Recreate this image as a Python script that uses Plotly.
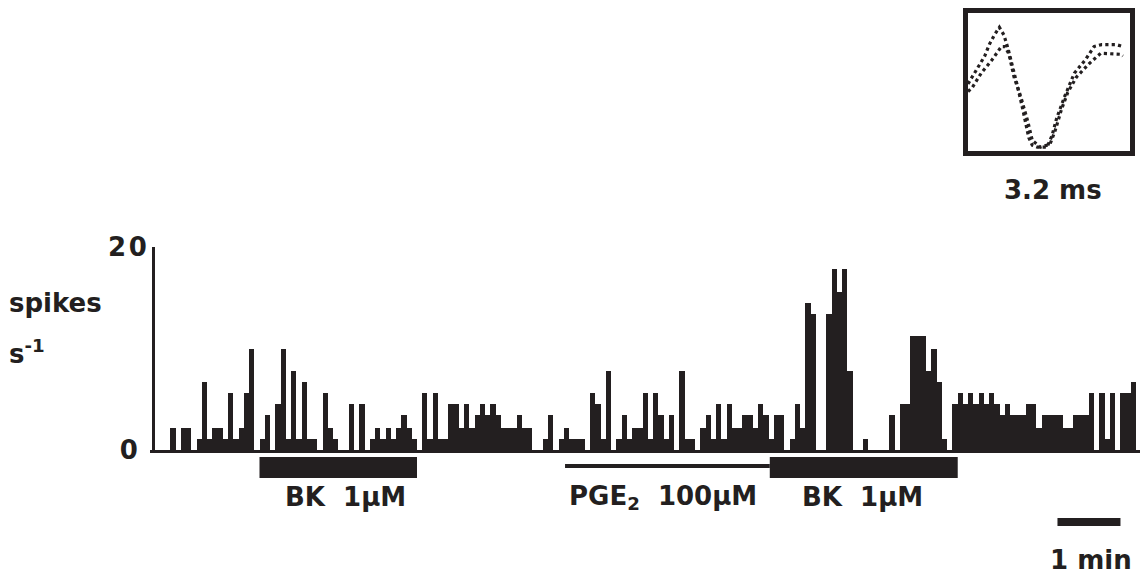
import numpy as np
import plotly.graph_objects as go

# ---------------- data ----------------
# spike-rate histogram (spikes s-1), one value per 5-s bin
rates = [
    0, 0, 0, 2.2, 0, 2.2, 2.2, 0, 1.1, 6.7,
    1.1, 2.2, 2.2, 1.1, 5.6, 1.1, 2.2, 5.6, 10.0, 0,
    1.1, 3.4, 0, 4.5, 10.0, 1.1, 7.8, 1.1, 6.7, 1.1,
    1.1, 0, 5.6, 2.2, 1.1, 0, 0, 4.5, 0, 4.5,
    0, 1.1, 2.2, 1.1, 2.2, 1.1, 2.2, 3.4, 2.2, 1.1,
    0, 5.6, 1.1, 5.6, 1.1, 1.1, 4.5, 4.5, 2.2, 4.5,
    2.2, 3.4, 4.5, 3.4, 4.5, 3.4, 2.2, 2.2, 2.2, 3.4,
    2.2, 2.2, 0, 0, 1.1, 3.4, 0, 1.1, 2.2, 1.1,
    1.1, 1.1, 0, 5.6, 4.5, 1.1, 7.8, 0, 1.1, 3.4,
    1.1, 2.2, 2.2, 5.6, 1.1, 5.6, 3.4, 1.1, 3.4, 0,
    7.8, 1.1, 1.1, 0, 2.2, 3.4, 1.1, 4.5, 1.1, 4.5,
    2.2, 2.2, 3.4, 3.4, 2.2, 4.5, 3.4, 1.1, 3.4, 3.4,
    0, 1.1, 4.5, 2.2, 14.5, 13.4, 0, 0, 13.4, 17.8,
    15.6, 17.8, 7.8, 0, 0, 1.1, 0, 0, 0, 0,
    3.4, 0, 4.5, 4.5, 11.2, 11.2, 11.2, 7.8, 10.0, 6.7,
    1.1, 0, 4.5, 5.6, 4.5, 5.6, 4.5, 5.6, 4.5, 5.6,
    4.5, 3.4, 4.5, 3.4, 3.4, 3.4, 4.5, 4.5, 2.2, 3.4,
    3.4, 3.4, 3.4, 2.2, 2.2, 3.4, 3.4, 3.4, 5.6, 0,
    5.6, 1.1, 5.6, 0, 5.6, 5.6, 6.7,
]
bin_width_s = 5
y_ticks = [0, 20]
y_tick_labels = ["0\u00a0", "2\u200a0"]

# drug applications (s)
bk1_start, bk1_end = 100, 250
pge2_start, pge2_end = 391, 586
bk2_start, bk2_end = 586, 765
scale_start, scale_end = 860, 920  # 1 min

# spike waveform in inset (time ms, amplitude arb. units), two sweeps
wave_t_a = [0.00, 0.08, 0.21, 0.33, 0.42, 0.52, 0.62, 0.71, 0.79, 0.89, 0.98, 1.08,
            1.20, 1.27, 1.37, 1.56, 1.66, 1.75, 1.91, 2.10, 2.33, 2.49, 2.64, 2.93, 3.06]
wave_v_a = [48.6, 53.5, 61.1, 68.8, 77.1, 84.0, 89.6, 84.0, 74.3, 60.4, 46.5, 30.6,
            9.7, 4.2, 2.8, 2.8, 11.1, 23.6, 39.6, 56.3, 66.7, 75.7, 77.1, 77.1, 75.7]
wave_t_b = [0.00, 0.08, 0.27, 0.46, 0.66, 0.73, 0.81, 0.91, 1.04, 1.18, 1.27, 1.43,
            1.62, 1.72, 1.85, 1.97, 2.14, 2.39, 2.62, 3.01, 3.06]
wave_v_b = [43.1, 45.8, 56.9, 65.3, 75.7, 75.7, 70.1, 53.5, 39.6, 21.5, 7.6, 2.8,
            4.9, 14.6, 30.6, 42.4, 53.5, 63.2, 70.8, 70.1, 68.8]

# ---------------- figure ----------------
W, H = 1142, 579
INK = "#231f20"
FONT = "DejaVu Sans"
FS = 26


def px(x):
    return x / W


def py(y):
    return 1 - y / H


times = np.arange(len(rates)) * bin_width_s + bin_width_s / 2

fig = go.Figure()
fig.add_trace(go.Bar(x=times, y=rates, width=bin_width_s,
                     marker=dict(color=INK, line=dict(width=0)),
                     xaxis="x", yaxis="y", hoverinfo="skip"))

for tt, vv in ((wave_t_a, wave_v_a), (wave_t_b, wave_v_b)):
    fig.add_trace(go.Scatter(x=tt, y=vv, mode="lines",
                             line=dict(color=INK, width=3.2, dash="dot"),
                             xaxis="x2", yaxis="y2", hoverinfo="skip"))

fig.update_layout(
    width=W, height=H,
    margin=dict(l=0, r=0, t=0, b=0, pad=0, autoexpand=False),
    paper_bgcolor="white", plot_bgcolor="white",
    showlegend=False, bargap=0,
    font=dict(family=FONT, color=INK),
    xaxis=dict(domain=[px(150), px(1140)], range=[-4.29, 938.6],
               showline=True, linewidth=3, linecolor=INK, automargin=False,
               showticklabels=False, ticks="", showgrid=False, zeroline=False,
               anchor="y"),
    yaxis=dict(domain=[py(450), py(247)], range=[0, 20],
               anchor="free", position=px(153), automargin=False,
               showline=True, linewidth=3, linecolor=INK,
               tickvals=y_ticks, ticktext=y_tick_labels,
               ticks="inside", ticklen=7, tickwidth=3, tickcolor=INK,
               tickfont=dict(size=FS, family=FONT, color=INK, weight="bold"),
               showgrid=False, zeroline=False),
    xaxis2=dict(domain=[px(968), px(1130)], range=[0, 3.2], automargin=False,
                showline=True, mirror=True, linewidth=5, linecolor=INK,
                showticklabels=False, ticks="", showgrid=False, zeroline=False,
                anchor="y2"),
    yaxis2=dict(domain=[py(151), py(13)], range=[0, 100], automargin=False,
                showline=True, mirror=True, linewidth=5, linecolor=INK,
                showticklabels=False, ticks="", showgrid=False, zeroline=False,
                anchor="x2"),
)

shapes = []
for x0, x1, ya, yb in ((bk1_start, bk1_end, 478, 457),
                       (pge2_start, pge2_end, 468, 464),
                       (bk2_start, bk2_end, 478, 457),
                       (scale_start, scale_end, 526, 518)):
    shapes.append(dict(type="rect", xref="x", yref="paper",
                       x0=x0, x1=x1, y0=py(ya), y1=py(yb),
                       fillcolor=INK, line=dict(width=0), layer="above"))
fig.update_layout(shapes=shapes)

NB = "\u00a0"


def label(text, x, y, xanchor="center", size=FS):
    fig.add_annotation(text=text, x=px(x), y=py(y), xref="paper", yref="paper",
                       xanchor=xanchor, yanchor="middle", showarrow=False,
                       font=dict(size=size, family=FONT, color=INK))


label("<b>BK" + NB * 2 + "1µM</b>", 345, 497)
label("<b>PGE<sub>2</sub>" + NB * 2 + "100µM</b>", 663, 497)
label("<b>BK" + NB * 2 + "1µM</b>", 862, 497)
label("<b>1" + NB + "min</b>", 1091, 560)
label("<b>3.2" + NB + "ms</b>", 1053, 190)
label("<b>spikes</b>", 7, 303, xanchor="left")
label("<b>s<sup>-1</sup></b>", 7, 352, xanchor="left")

fig.write_html(
    "out.html",
    config={"displayModeBar": False, "staticPlot": True},
    post_script=(
        "document.documentElement.style.margin='0';"
        "document.body.style.margin='0';"
        "document.documentElement.style.overflow='hidden';"
        "document.body.style.overflow='hidden';"
        "var d=document.getElementById('{plot_id}');"
        "d.style.position='fixed';d.style.top='0';d.style.left='0';"
    ),
)
